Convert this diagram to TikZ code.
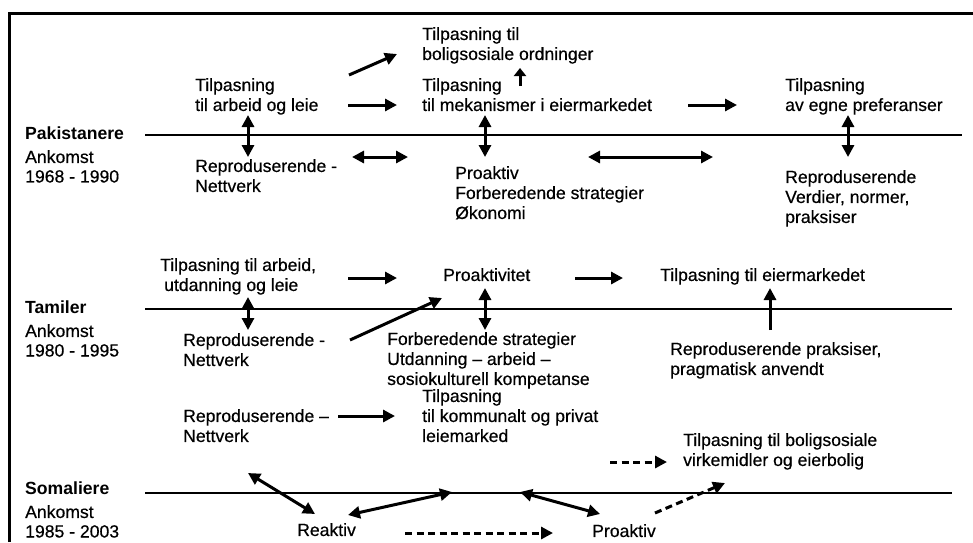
\documentclass[tikz,border=0pt]{standalone}
\usepackage{fontspec}
\setmainfont{Liberation Sans}
\newfontfamily\plainfont{Liberation Sans}[FakeBold=0.5]
\usetikzlibrary{arrows.meta}
\begin{document}
\begin{tikzpicture}[x=1pt,y=-1pt,
  txt/.style={anchor=north west, inner sep=0pt, align=left, font=\plainfont\fontsize{17.6}{20}\selectfont},
  grp/.style={txt, font=\normalfont\fontsize{17.6}{20}\selectfont\bfseries},
  tip/.tip={Triangle[length=12pt,width=12pt]},
  arr/.style={line width=3pt, -tip},
  darr/.style={line width=3pt, tip-tip},
  dsh/.style={arr, dash pattern=on 7pt off 4.5pt},
  axis/.style={line width=1.7pt},
  frame/.style={line width=3pt, line join=miter}]

\useasboundingbox (0,0) rectangle (973,542);

% outer frame (top and left edges)
\draw[frame] (9,542) -- (9,13) -- (975,13);

% time axes of the three groups
\coordinate (axP0) at (145,135); \coordinate (axP1) at (962,135);
\coordinate (axT0) at (145,309); \coordinate (axT1) at (952,309);
\coordinate (axS0) at (145,493); \coordinate (axS1) at (952,493);
\draw[axis] (axP0) -- (axP1);
\draw[axis] (axT0) -- (axT1);
\draw[axis] (axS0) -- (axS1);

% ---------------- Pakistanere ----------------
\node[grp] (gP)  at (25,127) {Pakistanere};
\node[txt] (gPa) at (25,150) {Ankomst};
\node[txt] (gPy) at (25,170) {1968 - 1990};

\node[txt] (P1) at (422,27)  {Tilpasning til\\boligsosiale ordninger};
\node[txt] (P2) at (195,78)  {Tilpasning\\til arbeid og leie};
\node[txt] (P3) at (422,78)  {Tilpasning\\til mekanismer i eiermarkedet};
\node[txt] (P4) at (785,78)  {Tilpasning\\av egne preferanser};
\node[txt] (P5) at (195,159) {Reproduserende -\\Nettverk};
\node[txt] (P6) at (455,166) {Proaktiv\\Forberedende strategier\\Økonomi};
\node[txt] (P7) at (785,170) {Reproduserende\\Verdier, normer,\\praksiser};

\coordinate (p1a) at (349,75);  \coordinate (p1b) at (397,54);
\coordinate (p2a) at (348,105); \coordinate (p2b) at (397,105);
\coordinate (p3a) at (248,115); \coordinate (p3b) at (248,157);
\coordinate (p4a) at (352,157); \coordinate (p4b) at (408,157);
\coordinate (p5a) at (520,86);  \coordinate (p5b) at (520,68);
\coordinate (p6a) at (485,115); \coordinate (p6b) at (485,157);
\coordinate (p7a) at (688,105); \coordinate (p7b) at (737,105);
\coordinate (p8a) at (848,115); \coordinate (p8b) at (848,157);
\coordinate (p9a) at (588,157); \coordinate (p9b) at (713,157);

\draw[arr]  (p1a) -- (p1b);
\draw[arr]  (p2a) -- (p2b);
\draw[darr] (p3a) -- (p3b);
\draw[darr] (p4a) -- (p4b);
\draw[line width=3pt, -{Triangle[length=8pt,width=12pt]}] (p5a) -- (p5b);
\draw[darr] (p6a) -- (p6b);
\draw[arr]  (p7a) -- (p7b);
\draw[darr] (p8a) -- (p8b);
\draw[darr] (p9a) -- (p9b);

% ---------------- Tamiler ----------------
\node[grp] (gT)  at (25,301) {Tamiler};
\node[txt] (gTa) at (25,324) {Ankomst};
\node[txt] (gTy) at (25,344) {1980 - 1995};

\node[txt] (T1) at (160,258) {Tilpasning til arbeid,\\\hspace*{4pt}utdanning og leie};
\node[txt] (T2) at (443,268) {Proaktivitet};
\node[txt] (T3) at (660,268) {Tilpasning til eiermarkedet};
\node[txt] (T4) at (183,333) {Reproduserende -\\Nettverk};
\node[txt] (T5) at (387,332) {Forberedende strategier\\Utdanning – arbeid –\\sosiokulturell kompetanse};
\node[txt] (T6) at (670,342) {Reproduserende praksiser,\\pragmatisk anvendt};

\coordinate (t1a) at (348,278); \coordinate (t1b) at (397,278);
\coordinate (t2a) at (248,297); \coordinate (t2b) at (248,330);
\coordinate (t3a) at (350,340); \coordinate (t3b) at (442,298);
\coordinate (t4a) at (485,288); \coordinate (t4b) at (485,330);
\coordinate (t5a) at (575,278); \coordinate (t5b) at (623,278);
\coordinate (t6a) at (770,330); \coordinate (t6b) at (770,288);

\draw[arr]  (t1a) -- (t1b);
\draw[darr] (t2a) -- (t2b);
\draw[arr]  (t3a) -- (t3b);
\draw[darr] (t4a) -- (t4b);
\draw[arr]  (t5a) -- (t5b);
\draw[arr]  (t6a) -- (t6b);

% ---------------- Somaliere ----------------
\node[grp] (gS)  at (25,482) {Somaliere};
\node[txt] (gSa) at (25,505) {Ankomst};
\node[txt] (gSy) at (25,525) {1985 - 2003};

\node[txt] (S1) at (183,409) {Reproduserende –\\Nettverk};
\node[txt] (S2) at (422,389) {Tilpasning\\til kommunalt og privat\\leiemarked};
\node[txt] (S3) at (683,433) {Tilpasning til boligsosiale\\virkemidler og eierbolig};
\node[txt] (S4) at (297,523) {Reaktiv};
\node[txt] (S5) at (592,524) {Proaktiv};

\coordinate (s1a) at (338,416); \coordinate (s1b) at (395,416);
\coordinate (s2a) at (610,462); \coordinate (s2b) at (667,462);
\coordinate (s3a) at (248,473); \coordinate (s3b) at (315,514);
\coordinate (s4a) at (348,515); \coordinate (s4b) at (452,492);
\coordinate (s5a) at (520,492); \coordinate (s5b) at (600,514);
\coordinate (s6a) at (655,513); \coordinate (s6b) at (725,483);
\coordinate (s7a) at (405,533); \coordinate (s7b) at (553,533);

\draw[arr]  (s1a) -- (s1b);
\draw[dsh]  (s2a) -- (s2b);
\draw[darr] (s3a) -- (s3b);
\draw[darr] (s4a) -- (s4b);
\draw[darr] (s5a) -- (s5b);
\draw[dsh]  (s6a) -- (s6b);
\draw[dsh]  (s7a) -- (s7b);
\end{tikzpicture}
\end{document}
